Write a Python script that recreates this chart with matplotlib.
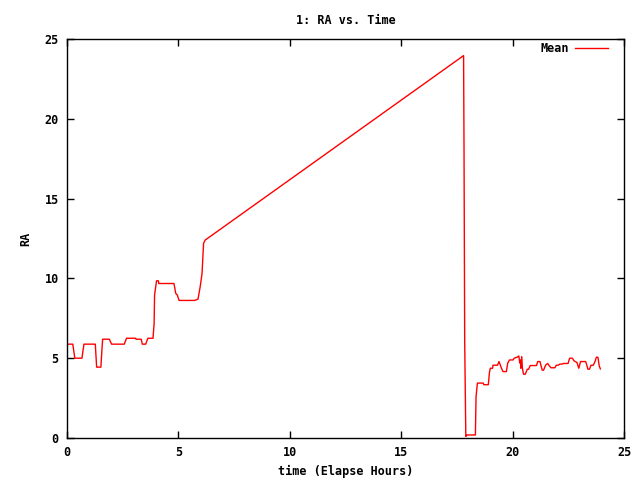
import matplotlib
matplotlib.use("Agg")
import matplotlib.pyplot as plt

# RA mean vs elapsed time
hours = [0, 0.26, 0.35, 0.67, 0.76, 1.27, 1.33, 1.52, 1.57, 1.6, 1.9, 2.0,
         2.57, 2.67, 3.08, 3.1, 3.33, 3.38, 3.53, 3.63, 3.86, 3.91, 3.93,
         4.02, 4.1, 4.12, 4.8, 4.88, 4.95, 5.03, 5.73, 5.88, 5.98, 6.06,
         6.13, 6.2, 17.8, 17.82, 17.85, 17.9, 17.95, 18.33, 18.36, 18.42,
         18.68, 18.71, 18.91, 18.96, 19.0, 19.1, 19.12, 19.32, 19.39, 19.5,
         19.57, 19.72, 19.78, 19.86, 20.02, 20.07, 20.2, 20.28, 20.32, 20.35,
         20.37, 20.41, 20.44, 20.49, 20.57, 20.66, 20.72, 20.79, 21.07, 21.13,
         21.23, 21.27, 21.33, 21.39, 21.48, 21.57, 21.63, 21.72, 21.9, 21.96,
         22.05, 22.12, 22.23, 22.27, 22.49, 22.56, 22.68, 22.76, 22.89, 22.97,
         23.05, 23.28, 23.33, 23.38, 23.45, 23.52, 23.62, 23.7, 23.76, 23.83,
         23.89, 23.94]
ra_mean = [5.88, 5.88, 5.0, 5.0, 5.88, 5.88, 4.44, 4.44, 5.6, 6.19, 6.19, 5.88,
           5.88, 6.25, 6.25, 6.19, 6.19, 5.88, 5.88, 6.25, 6.25, 7.19, 8.96,
           9.85, 9.85, 9.68, 9.68, 9.06, 8.96, 8.62, 8.62, 8.7, 9.5, 10.3,
           12.2, 12.4, 23.96, 18.0, 6.04, 0.1, 0.19, 0.19, 2.6, 3.44,
           3.44, 3.34, 3.34, 4.1, 4.37, 4.37, 4.56, 4.56, 4.79, 4.37,
           4.16, 4.16, 4.69, 4.89, 4.89, 5.0, 5.06, 5.14, 4.7, 4.89,
           4.37, 5.1, 4.37, 4.0, 4.0, 4.31, 4.31, 4.54, 4.54, 4.79,
           4.79, 4.56, 4.25, 4.25, 4.56, 4.67, 4.56, 4.4, 4.4, 4.56,
           4.56, 4.63, 4.63, 4.67, 4.67, 5.0, 5.0, 4.83, 4.73, 4.37,
           4.79, 4.79, 4.56, 4.31, 4.31, 4.56, 4.56, 4.79, 5.06, 5.06,
           4.5, 4.33]

xticks = [0, 5, 10, 15, 20, 25]
yticks = [0, 5, 10, 15, 20, 25]

plt.rcParams["font.family"] = "DejaVu Sans Mono"
plt.rcParams["font.weight"] = "bold"
plt.rcParams["font.size"] = 8.5

fig = plt.figure(figsize=(6.4, 4.8), dpi=100)
ax = fig.add_axes([0.1047, 0.0875, 0.8703, 0.83125])

ax.plot(hours, ra_mean, color="red", linewidth=1, label="Mean")

ax.set_xlim(0, 25)
ax.set_ylim(0, 25)
ax.set_xticks(xticks)
ax.set_yticks(yticks)
ax.tick_params(direction="in", length=5, width=1, top=True, right=True,
               labelsize=8.5, pad=6)
for s in ax.spines.values():
    s.set_linewidth(1)

ax.set_title("1: RA vs. Time", fontsize=8.5, fontweight="bold", pad=11)
ax.set_xlabel("time (Elapse Hours)", fontsize=8.5, fontweight="bold", labelpad=4)
ax.set_ylabel("RA", fontsize=8.5, fontweight="bold", labelpad=9)

ax.legend(loc="upper right", frameon=False, markerfirst=False,
          handlelength=2.8, handletextpad=0.5, borderaxespad=0.3,
          bbox_to_anchor=(0.9856, 1.0125), fontsize=8.5)

fig.savefig("out.png", dpi=100)
